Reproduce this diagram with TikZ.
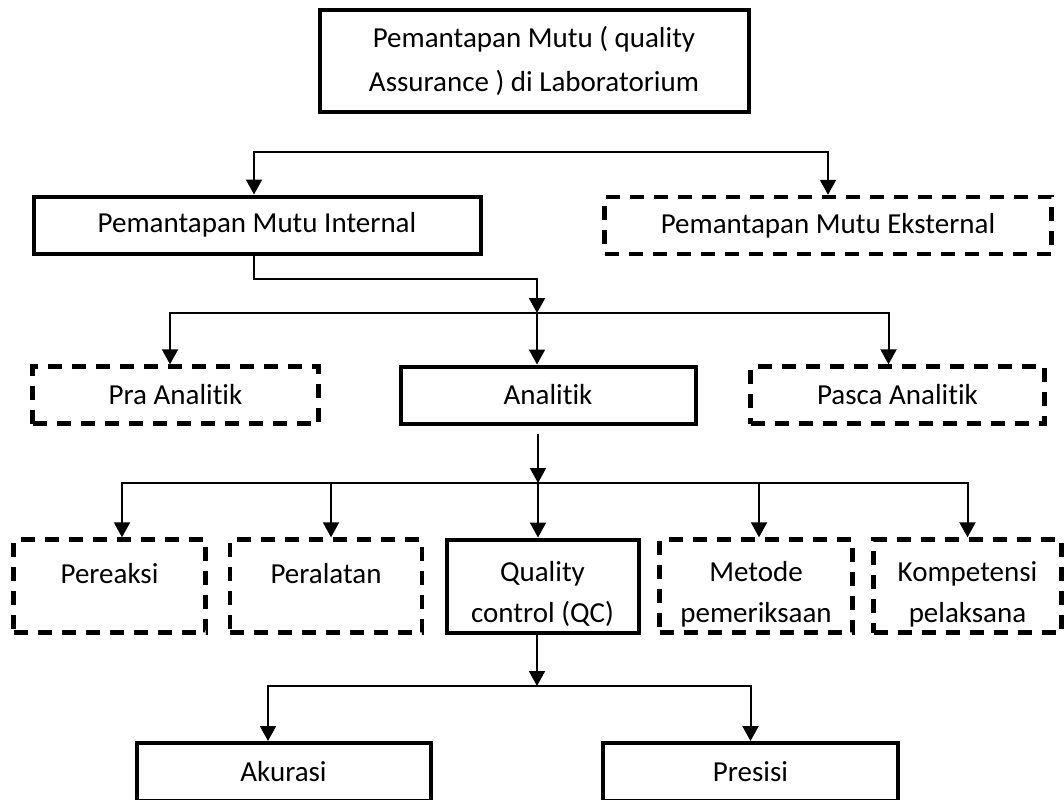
\documentclass[tikz,border=0pt]{standalone}
\usepackage{fontspec}
\setmainfont{Carlito}[Ligatures=NoCommon]
\usetikzlibrary{arrows.meta}

\newcommand{\turun}{\rule{0pt}{18pt}}

\tikzset{
  kotak/.style={draw,line width=2pt,inner sep=0pt,align=center,
    font=\fontsize{14.5}{20.5}\selectfont},
  kotakputus/.style={kotak,line width=2.2pt,dash pattern=on 7pt off 5pt},
  panah/.style={line width=1pt,-{Triangle[width=8pt,length=7.5pt]}}
}

\begin{document}
\begin{tikzpicture}[x=0.5pt,y=-0.5pt]
\useasboundingbox (0,0) rectangle (1064,799);

% kotak
\node[kotak,minimum width=214.5pt,minimum height=51pt,font=\fontsize{14.5}{22}\selectfont] (qa) at (534,60.5)
  {Pemantapan Mutu ( quality\\Assurance ) di Laboratorium};
\node[kotak,minimum width=223.5pt,minimum height=28.5pt] (pmi) at (257,225) {Pemantapan Mutu Internal};
\node[kotakputus,minimum width=223.5pt,minimum height=28.5pt] (pme) at (828,225.5) {Pemantapan Mutu Eksternal};

\node[kotakputus,minimum width=143pt,minimum height=28.5pt] (pra) at (175.5,395) {Pra Analitik};
\node[kotak,minimum width=147.5pt,minimum height=28.5pt] (ana) at (548,395) {Analitik};
\node[kotakputus,minimum width=147pt,minimum height=28.5pt] (pasca) at (897.5,395) {Pasca Analitik};

\node[kotakputus,minimum width=96pt,minimum height=46.5pt] (reaksi) at (109.5,586) {\turun Pereaksi\\\mbox{}};
\node[kotakputus,minimum width=96pt,minimum height=46.5pt] (alat) at (326,586) {\turun Peralatan\\\mbox{}};
\node[kotak,minimum width=96pt,minimum height=46.5pt] (qc) at (542.5,586) {\turun Quality\\control (QC)};
\node[kotakputus,minimum width=96.5pt,minimum height=46.5pt] (metode) at (756,586) {\turun Metode\\pemeriksaan};
\node[kotakputus,minimum width=94pt,minimum height=46.5pt] (komp) at (967.5,586) {\turun Kompetensi\\pelaksana};

\node[kotak,minimum width=147pt,minimum height=29pt] (akurasi) at (283.5,772) {Akurasi};
\node[kotak,minimum width=147.5pt,minimum height=29pt] (presisi) at (750.5,772) {Presisi};

% titik cabang
\coordinate (cA) at (540,152);
\coordinate (cB) at (537,313);
\coordinate (cC) at (538,483);
\coordinate (cD) at (537,686);

% panah
\draw[panah] (cA) -| ([xshift=-1.5pt]pmi.north);
\draw[panah] (cA) -| (pme.north);

\draw[panah] ([xshift=-1.5pt]pmi.south) -- ++(0,23) -| (cB);
\draw[panah] (cB) -| ([xshift=-2.75pt]pra.north);
\draw[panah] (cB) -- (cB |- ana.north);
\draw[panah] (cB) -| ([xshift=-4.5pt]pasca.north);

\draw[panah,shorten <=4pt] (ana.south -| cC) -- (cC);
\draw[panah] (cC) -| ([xshift=6.25pt]reaksi.north);
\draw[panah] (cC) -| ([xshift=2.5pt]alat.north);
\draw[panah] (cC) -- (cC |- qc.north);
\draw[panah] (cC) -| ([xshift=1.5pt]metode.north);
\draw[panah] (cC) -| (komp.north);

\draw[panah] (qc.south -| cD) -- (cD);
\draw[panah] (cD) -| ([xshift=-7.75pt]akurasi.north);
\draw[panah] (cD) -| (presisi.north);
\end{tikzpicture}
\end{document}
